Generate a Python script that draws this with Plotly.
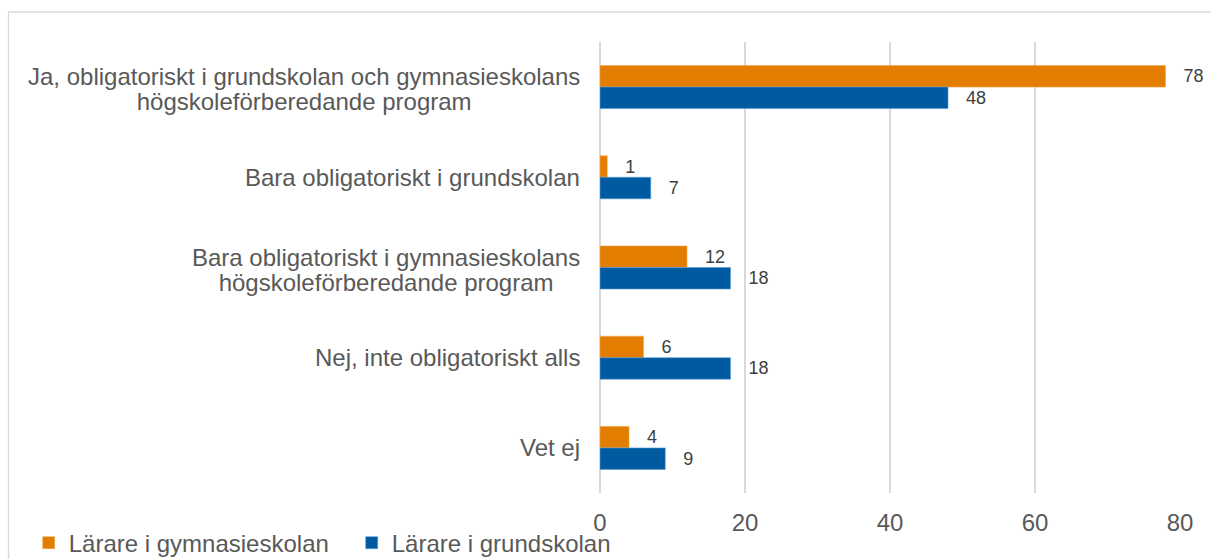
import plotly.graph_objects as go

categories = [
    "Ja, obligatoriskt i grundskolan och gymnasieskolans<br>högskoleförberedande program",
    "Bara obligatoriskt i grundskolan",
    "Bara obligatoriskt i gymnasieskolans<br>högskoleförberedande program",
    "Nej, inte obligatoriskt alls",
    "Vet ej",
]
gymnasie_values = [78, 1, 12, 6, 4]
grund_values = [48, 7, 18, 18, 9]
series_names = ["Lärare i gymnasieskolan", "Lärare i grundskolan"]
x_ticks = [0, 20, 40, 60, 80]

ORANGE = "#E27D00"
BLUE = "#005AA0"
FONT = "Liberation Sans, Arial, sans-serif"
TEXT = "#595959"

fig = go.Figure()
for name, vals, col, edge in [
    (series_names[0], gymnasie_values, ORANGE, "#F0A850"),
    (series_names[1], grund_values, BLUE, "#5B9BD5"),
]:
    fig.add_trace(go.Bar(
        y=categories, x=vals, name=name, orientation="h",
        marker=dict(color=col, line=dict(color=edge, width=0.6)),
        text=vals, texttemplate="\u00a0\u00a0\u00a0%{x}", textposition="outside",
        textfont=dict(family=FONT, size=18, color="#404040"),
        cliponaxis=False, hoverinfo="skip",
    ))

for c in categories:
    fig.add_annotation(
        xref="paper", x=0, yref="y", y=c, text=c, showarrow=False,
        xanchor="right", align="center", xshift=-18,
        font=dict(family=FONT, size=24, color=TEXT),
    )

fig.add_shape(type="rect", xref="paper", yref="paper",
              x0=-1.0198, x1=1.2, y0=-0.4, y1=1.0665,
              line=dict(color="#D9D9D9", width=1.3), fillcolor="rgba(0,0,0,0)", layer="below")

fig.update_layout(
    width=1211, height=559,
    margin=dict(l=600, r=31, t=42, b=66, pad=0, autoexpand=False),
    paper_bgcolor="white", plot_bgcolor="white",
    barmode="group", bargap=0.523, bargroupgap=0,
    font=dict(family=FONT, color=TEXT),
    showlegend=True,
    legend=dict(orientation="h", x=-0.985, xanchor="left", y=-0.111, yanchor="middle",
                font=dict(family=FONT, size=24, color=TEXT), traceorder="normal",
                entrywidth=278, entrywidthmode="pixels",
                bgcolor="rgba(0,0,0,0)"),
    xaxis=dict(range=[0, 80], tickvals=x_ticks, showgrid=True, gridcolor="#D9D9D9", gridwidth=1.5,
               zeroline=True, zerolinecolor="#D9D9D9", zerolinewidth=1.5,
               ticks="outside", ticklen=8, tickcolor="rgba(0,0,0,0)",
               tickfont=dict(family=FONT, size=24, color=TEXT), showline=False, fixedrange=True,
               automargin=False),
    yaxis=dict(autorange="reversed", showticklabels=False, showgrid=False, zeroline=False,
               showline=False, fixedrange=True, automargin=False),
)

post = """
document.body.style.margin = '0';
document.querySelectorAll('.annotation-text').forEach(function(t){
  var lines = t.querySelectorAll('tspan.line');
  if (lines.length === 2) { lines[0].setAttribute('dy','0.19em'); lines[1].setAttribute('dy','1.25em'); }
});
"""
fig.write_html("out.html", post_script=post, config={"displayModeBar": False})
